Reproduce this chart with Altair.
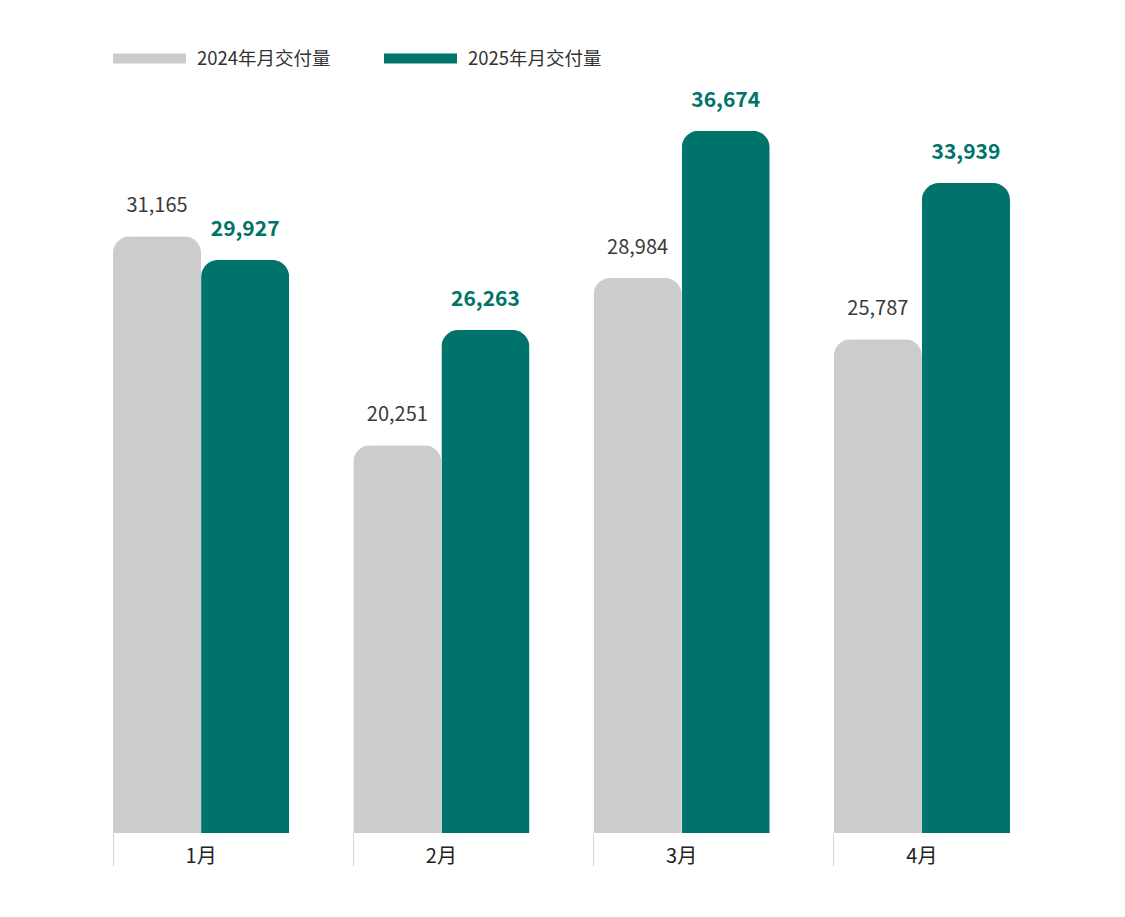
import altair as alt
import pandas as pd

months = ["1月", "2月", "3月", "4月"]
series_names = ["2024年月交付量", "2025年月交付量"]
v2024 = [31165, 20251, 28984, 25787]
v2025 = [29927, 26263, 36674, 33939]
colors = ["#cccccc", "#00746b"]

rows = []
for m, a, b in zip(months, v2024, v2025):
    rows.append({"month": m, "series": series_names[0], "value": a})
    rows.append({"month": m, "series": series_names[1], "value": b})
df = pd.DataFrame(rows)

FONT = "Noto Sans CJK SC"

x = alt.X("month:N", sort=months, title=None,
          scale=alt.Scale(paddingInner=0.2667, paddingOuter=0),
          axis=alt.Axis(domain=False, ticks=True, tickColor="#d6d6d6", tickWidth=1,
                        tickSize=33, bandPosition=0, labelOffset=0, labelAngle=0,
                        labelFontSize=20, labelColor="#222222", labelFont=FONT,
                        labelPadding=-20, grid=False))
xo = alt.XOffset("series:N", sort=series_names)
y = alt.Y("value:Q", scale=alt.Scale(domain=[0, 40000], nice=False), axis=None)

bars = alt.Chart(df).mark_bar(cornerRadiusTopLeft=17, cornerRadiusTopRight=17).encode(
    x=x, xOffset=xo, y=y,
    color=alt.Color("series:N", sort=series_names,
                    scale=alt.Scale(domain=series_names, range=colors),
                    legend=alt.Legend(title=None, orient="none", direction="horizontal",
                                      legendX=0, legendY=-45,
                                      symbolType="M-1,-0.137L1,-0.137L1,0.137L-1,0.137Z",
                                      symbolSize=5329, symbolStrokeWidth=0,
                                      labelFontSize=18.5, labelFont=FONT, labelColor="#333333",
                                      labelOffset=11, columnPadding=53))
)

t24 = alt.Chart(df).transform_filter(alt.datum.series == series_names[0]).mark_text(
    dy=-30, fontSize=20, font=FONT, color="#3a3a3a", baseline="middle"
).encode(x=x, xOffset=xo, y=y, text=alt.Text("value:Q", format=","))

t25 = alt.Chart(df).transform_filter(alt.datum.series == series_names[1]).mark_text(
    dy=-30, fontSize=21, font=FONT, fontWeight="bold", color="#00746b", baseline="middle"
).encode(x=x, xOffset=xo, y=y, text=alt.Text("value:Q", format=","))

chart = alt.layer(bars, t24, t25).properties(
    width=897, height=766,
    autosize=alt.AutoSizeParams(type="none"),
    padding={"left": 105, "top": 59, "right": 100, "bottom": 60},
).configure(background="white").configure_view(strokeWidth=0, stroke="transparent")

chart.save("out.html", embed_options={"renderer": "svg", "actions": False})
